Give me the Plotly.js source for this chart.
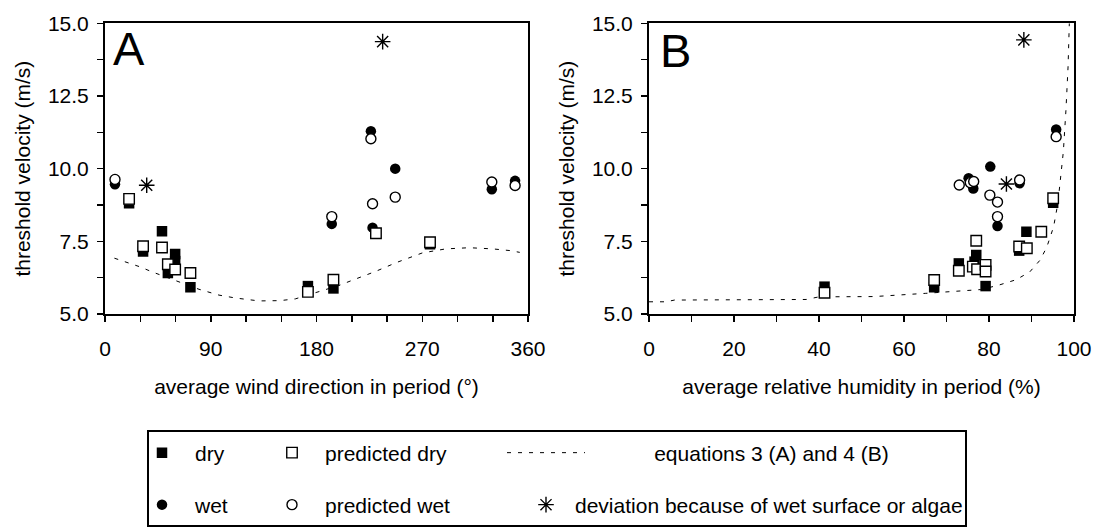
<!DOCTYPE html>
<html>
<head>
<meta charset="utf-8">
<script src="https://cdn.plot.ly/plotly-3.0.1.min.js"></script>
<style>
  html, body { margin: 0; padding: 0; background: #fff; }
  #chart { width: 1098px; height: 528px; }
</style>
</head>
<body>
<div id="chart"></div>
<script>
// ---------- Panel A: threshold velocity vs average wind direction (deg) ----------
const dryA_x  = [20.5, 32.4, 48.5, 53.5, 59.7, 59.7, 72.7, 172.7, 194.4, 276.6];
const dryA_y  = [8.81, 7.15, 7.85, 6.41, 7.06, 6.82, 5.92, 5.96, 5.88, 7.40];
const pdryA_x = [20.5, 32.4, 48.5, 53.5, 59.7, 72.7, 172.7, 194.4, 230.6, 276.6];
const pdryA_y = [8.96, 7.33, 7.29, 6.71, 6.53, 6.41, 5.76, 6.18, 7.78, 7.47];
const wetA_x  = [8.5, 193.0, 226.3, 247.0, 227.7, 329.2, 349.0];
const wetA_y  = [9.46, 8.10, 11.29, 10.00, 7.97, 9.29, 9.58];
const pwetA_x = [8.5, 193.0, 226.3, 247.0, 227.7, 329.2, 349.0];
const pwetA_y = [9.63, 8.35, 11.03, 9.02, 8.79, 9.54, 9.42];
const devA_x  = [35.5, 236.3];
const devA_y  = [9.43, 14.37];
const eqA_x   = [8, 20, 30, 40, 60, 80, 97, 111, 131, 149, 162, 179, 199, 213, 230, 248, 270, 290, 310, 330, 345, 353];
const eqA_y   = [6.92, 6.77, 6.62, 6.45, 6.15, 5.85, 5.65, 5.55, 5.45, 5.46, 5.52, 5.72, 5.98, 6.20, 6.46, 6.77, 7.10, 7.24, 7.28, 7.24, 7.18, 7.12];

// ---------- Panel B: threshold velocity vs average relative humidity (%) ----------
const dryB_x  = [95.1, 88.8, 87.1, 77.0, 72.9, 76.6, 79.2, 67.1, 41.3];
const dryB_y  = [8.83, 7.83, 7.18, 7.03, 6.74, 6.80, 5.96, 5.92, 5.94];
const pdryB_x = [95.1, 92.3, 87.1, 88.9, 77.0, 72.9, 76.2, 77.2, 79.2, 79.2, 67.1, 41.3];
const pdryB_y = [8.98, 7.83, 7.32, 7.26, 7.52, 6.49, 6.63, 6.54, 6.69, 6.46, 6.17, 5.73];
const wetB_x  = [95.8, 80.3, 75.2, 76.3, 87.2, 82.0];
const wetB_y  = [11.35, 10.07, 9.67, 9.32, 9.50, 8.03];
const pwetB_x = [95.8, 73.0, 75.6, 76.4, 87.2, 80.2, 82.0, 82.0];
const pwetB_y = [11.10, 9.44, 9.52, 9.56, 9.61, 9.09, 8.85, 8.35];
const devB_x  = [88.2, 84.1];
const devB_y  = [14.43, 9.47];
const eqB_x   = [0, 4, 6, 20, 37, 40, 53, 65, 72, 78, 82, 86.4, 89.6, 92, 93.6, 95.2, 96.2, 96.8, 97.5, 98.1, 98.6, 98.9];
const eqB_y   = [5.42, 5.42, 5.48, 5.50, 5.50, 5.59, 5.60, 5.71, 5.77, 5.84, 5.98, 6.18, 6.45, 6.85, 7.30, 8.00, 8.80, 9.60, 10.60, 12.00, 13.50, 15.00];

const yTicks = [5, 7.5, 10, 12.5, 15];
const xTicksA = [0, 90, 180, 270, 360];
const xTicksB = [0, 20, 40, 60, 80, 100];

const names = {
  dry: 'dry',
  pdry: 'predicted dry',
  eq: '\u00a0'.repeat(11) + 'equations 3 (A) and 4 (B)',
  wet: 'wet',
  pwet: 'predicted wet',
  dev: 'deviation because of wet surface or algae'
};

const FONT = 'Liberation Sans, Arial, sans-serif';
const BLACK = '#000';
const FS = 21;

function curve(x, y, xa, ya, show) {
  return { type: 'scatter', mode: 'lines', x: x, y: y, xaxis: xa, yaxis: ya,
    name: names.eq, legend: 'legend3', showlegend: show,
    line: { color: BLACK, width: 1, dash: '4px,7px' }, hoverinfo: 'skip' };
}
function filled(x, y, xa, ya, sym, nm, lg, show, lw) {
  return { type: 'scatter', mode: 'markers', x: x, y: y, xaxis: xa, yaxis: ya,
    name: nm, legend: lg, showlegend: show, legendwidth: lw,
    marker: { symbol: sym, size: 10.5, color: BLACK, line: { width: 0 } } };
}
function open(x, y, xa, ya, sym, nm, lg, show, lw) {
  return { type: 'scatter', mode: 'markers', x: x, y: y, xaxis: xa, yaxis: ya,
    name: nm, legend: lg, showlegend: show, legendwidth: lw,
    marker: { symbol: sym, size: sym === 'square' ? 10.5 : 10, color: '#fff', line: { color: BLACK, width: 1.4 } } };
}
function star(x, y, xa, ya, show) {
  return { type: 'scatter', mode: 'markers', x: x, y: y, xaxis: xa, yaxis: ya,
    name: names.dev, legend: 'legend4', showlegend: show,
    marker: { symbol: 'asterisk-open', size: 13, color: BLACK, line: { color: BLACK, width: 1.4 } } };
}

const data = [
  curve(eqA_x, eqA_y, 'x', 'y', true),
  curve(eqB_x, eqB_y, 'x2', 'y2', false),
  filled(dryA_x, dryA_y, 'x', 'y', 'square', names.dry, 'legend', true, 59),
  filled(dryB_x, dryB_y, 'x2', 'y2', 'square', names.dry, 'legend', false, 59),
  filled(wetA_x, wetA_y, 'x', 'y', 'circle', names.wet, 'legend2', true, 59),
  filled(wetB_x, wetB_y, 'x2', 'y2', 'circle', names.wet, 'legend2', false, 59),
  open(pdryA_x, pdryA_y, 'x', 'y', 'square', names.pdry, 'legend', true, 150),
  open(pdryB_x, pdryB_y, 'x2', 'y2', 'square', names.pdry, 'legend', false, 150),
  open(pwetA_x, pwetA_y, 'x', 'y', 'circle', names.pwet, 'legend2', true, 150),
  open(pwetB_x, pwetB_y, 'x2', 'y2', 'circle', names.pwet, 'legend2', false, 150),
  star(devA_x, devA_y, 'x', 'y', true),
  star(devB_x, devB_y, 'x2', 'y2', false)
];

const W = 1098, H = 528;
const px = v => v / W;
const py = v => (H - v) / H;

const tickFont = { family: FONT, size: FS, color: BLACK };
function xAxis(domain, range, minor, title, ticks) {
  return {
    domain: domain, range: range, tickvals: ticks, ticktext: ticks.map(String),
    showgrid: false, zeroline: false, showline: true, mirror: true,
    linecolor: BLACK, linewidth: 2,
    ticks: 'outside', ticklen: 6, tickwidth: 1.5, tickcolor: BLACK,
    minor: { dtick: minor, ticks: 'outside', ticklen: 6, tickwidth: 1.5, tickcolor: BLACK, showgrid: false },
    tickfont: tickFont, ticklabelstandoff: 9,
    title: { text: title, font: { family: FONT, size: FS, color: BLACK }, standoff: 20 },
    fixedrange: true
  };
}
function yAxis(anchor) {
  return {
    domain: [py(314), py(23.3)], range: [5, 15], anchor: anchor,
    tickvals: yTicks, ticktext: yTicks.map(v => v.toFixed(1)),
    showgrid: false, zeroline: false, showline: true, mirror: true,
    linecolor: BLACK, linewidth: 2,
    ticks: 'outside', ticklen: 6, tickwidth: 1.5, tickcolor: BLACK,
    minor: { dtick: 1.25, ticks: 'outside', ticklen: 6, tickwidth: 1.5, tickcolor: BLACK, showgrid: false },
    tickfont: tickFont, ticklabelstandoff: 4,
    title: { text: 'threshold velocity (m/s)', font: { family: FONT, size: FS, color: BLACK }, standoff: 12 },
    fixedrange: true
  };
}

const legBase = {
  orientation: 'h', xanchor: 'left', yanchor: 'middle',
  bgcolor: 'rgba(0,0,0,0)', borderwidth: 0,
  font: { family: FONT, size: FS, color: BLACK },
  itemclick: false, itemdoubleclick: false
};

const layout = {
  width: W, height: H,
  margin: { l: 0, r: 0, t: 0, b: 0 },
  paper_bgcolor: '#fff', plot_bgcolor: '#fff',
  font: { family: FONT, size: FS, color: BLACK },
  showlegend: true,
  xaxis: xAxis([px(105), px(528)], [0, 360], 30, 'average wind direction in period (°)', xTicksA),
  yaxis: yAxis('x'),
  xaxis2: Object.assign(xAxis([px(649), px(1074)], [0, 100], 10, 'average relative humidity in period (%)', xTicksB), { anchor: 'y2' }),
  yaxis2: yAxis('x2'),
  legend:  Object.assign({}, legBase, { x: px(129), y: py(453), itemwidth: 56 }),
  legend2: Object.assign({}, legBase, { x: px(129), y: py(505), itemwidth: 56 }),
  legend3: Object.assign({}, legBase, { x: px(502), y: py(453), itemwidth: 78 }),
  legend4: Object.assign({}, legBase, { x: px(517), y: py(505), itemwidth: 48 }),
  annotations: [
    { text: 'A', xref: 'paper', yref: 'paper', x: px(111), y: py(48.5), xanchor: 'left', yanchor: 'middle',
      showarrow: false, font: { family: FONT, size: 47, color: BLACK } },
    { text: 'B', xref: 'paper', yref: 'paper', x: px(658), y: py(50), xanchor: 'left', yanchor: 'middle',
      showarrow: false, font: { family: FONT, size: 47, color: BLACK } }
  ],
  shapes: [
    { type: 'rect', xref: 'paper', yref: 'paper', x0: px(148), x1: px(966), y0: py(526), y1: py(431),
      line: { color: BLACK, width: 2 }, fillcolor: 'rgba(0,0,0,0)' }
  ]
};

Plotly.newPlot('chart', data, layout, { staticPlot: true, displayModeBar: false });
</script>
</body>
</html>
